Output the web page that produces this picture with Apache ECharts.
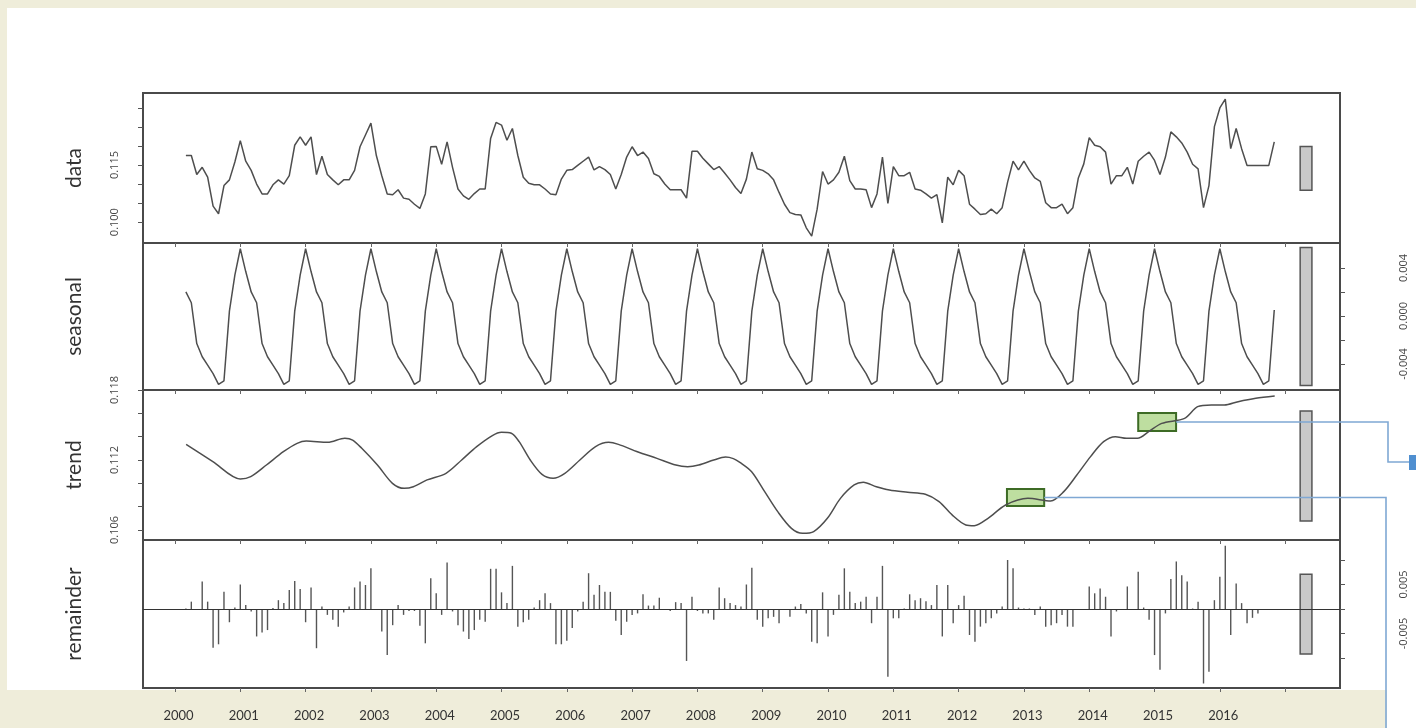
<!DOCTYPE html>
<html><head><meta charset="utf-8">
<script src="https://cdn.jsdelivr.net/npm/echarts@6/dist/echarts.min.js"></script>
<style>
html,body{margin:0;padding:0;background:#fff;}
#wrap{position:relative;width:1416px;height:728px;overflow:hidden;background:#fff;}
.strip{position:absolute;background:#efedda;}
#c{position:absolute;left:0;top:0;width:1416px;height:728px;}
</style>
</head><body>
<div id="wrap">
<div class="strip" style="left:0;top:0;width:1416px;height:8px;"></div>
<div class="strip" style="left:0;top:0;width:7px;height:728px;"></div>
<div class="strip" style="left:0;top:690px;width:1387px;height:38px;"></div>
<div id="c"></div>
</div>
<script>
// ---- DATA (monthly, March 2000 .. November 2016) ----
const startYear = 2000;
const startMonth = 3;

const dataValues = [
0.1175,0.1175,0.1125,0.1144,0.1118,0.1042,0.1022,0.1096,0.1111,0.1158,
0.1214,0.1160,0.1136,0.1100,0.1074,0.1074,0.1098,0.1111,0.1100,0.1122,
0.1202,0.1224,0.1202,0.1224,0.1125,0.1173,0.1125,0.1111,0.1098,0.1111,
0.1111,0.1136,0.1198,0.1229,0.1260,0.1175,0.1122,0.1074,0.1072,0.1085,
0.1063,0.1060,0.1047,0.1036,0.1074,0.1198,0.1199,0.1152,0.1211,0.1144,
0.1087,0.1069,0.1060,0.1075,0.1087,0.1087,0.1220,0.1262,0.1255,0.1215,
0.1246,0.1175,0.1118,0.1102,0.1098,0.1098,0.1087,0.1074,0.1072,0.1113,
0.1136,0.1138,0.1149,0.1160,0.1171,0.1137,0.1146,0.1138,0.1125,0.1087,
0.1125,0.1171,0.1198,0.1175,0.1184,0.1167,0.1127,0.1120,0.1100,0.1085,
0.1085,0.1085,0.1063,0.1186,0.1186,0.1168,0.1153,0.1138,0.1146,0.1129,
0.1111,0.1091,0.1075,0.1113,0.1184,0.1140,0.1136,0.1127,0.1111,0.1078,
0.1047,0.1025,0.1020,0.1019,0.0985,0.0963,0.1034,0.1133,0.1100,0.1111,
0.1131,0.1173,0.1109,0.1087,0.1087,0.1085,0.1038,0.1074,0.1171,0.1049,
0.1146,0.1122,0.1122,0.1131,0.1087,0.1084,0.1074,0.1063,0.1072,0.0998,
0.1118,0.1098,0.1136,0.1122,0.1047,0.1034,0.1020,0.1022,0.1034,0.1022,
0.1038,0.1105,0.1160,0.1137,0.1160,0.1136,0.1116,0.1107,0.1051,0.1038,
0.1038,0.1047,0.1022,0.1038,0.1116,0.1153,0.1222,0.1202,0.1198,0.1184,
0.1100,0.1122,0.1122,0.1144,0.1100,0.1160,0.1173,0.1184,0.1162,0.1125,
0.1171,0.1237,0.1224,0.1208,0.1184,0.1152,0.1140,0.1038,0.1096,0.1251,
0.1300,0.1323,0.1193,0.1246,0.1193,0.1149,0.1149,0.1149,0.1149,0.1149,
0.1211
];

const seasonalValues = [
0.0020,0.0011,-0.0023,-0.0034,-0.0041,-0.0048,-0.0057,-0.0054,0.0004,0.0034,0.0056,0.0037,
0.0020,0.0011,-0.0023,-0.0034,-0.0041,-0.0048,-0.0057,-0.0054,0.0004,0.0034,0.0056,0.0037,
0.0020,0.0011,-0.0023,-0.0034,-0.0041,-0.0048,-0.0057,-0.0054,0.0004,0.0034,0.0056,0.0037,
0.0020,0.0011,-0.0023,-0.0034,-0.0041,-0.0048,-0.0057,-0.0054,0.0004,0.0034,0.0056,0.0037,
0.0020,0.0011,-0.0023,-0.0034,-0.0041,-0.0048,-0.0057,-0.0054,0.0004,0.0034,0.0056,0.0037,
0.0020,0.0011,-0.0023,-0.0034,-0.0041,-0.0048,-0.0057,-0.0054,0.0004,0.0034,0.0056,0.0037,
0.0020,0.0011,-0.0023,-0.0034,-0.0041,-0.0048,-0.0057,-0.0054,0.0004,0.0034,0.0056,0.0037,
0.0020,0.0011,-0.0023,-0.0034,-0.0041,-0.0048,-0.0057,-0.0054,0.0004,0.0034,0.0056,0.0037,
0.0020,0.0011,-0.0023,-0.0034,-0.0041,-0.0048,-0.0057,-0.0054,0.0004,0.0034,0.0056,0.0037,
0.0020,0.0011,-0.0023,-0.0034,-0.0041,-0.0048,-0.0057,-0.0054,0.0004,0.0034,0.0056,0.0037,
0.0020,0.0011,-0.0023,-0.0034,-0.0041,-0.0048,-0.0057,-0.0054,0.0004,0.0034,0.0056,0.0037,
0.0020,0.0011,-0.0023,-0.0034,-0.0041,-0.0048,-0.0057,-0.0054,0.0004,0.0034,0.0056,0.0037,
0.0020,0.0011,-0.0023,-0.0034,-0.0041,-0.0048,-0.0057,-0.0054,0.0004,0.0034,0.0056,0.0037,
0.0020,0.0011,-0.0023,-0.0034,-0.0041,-0.0048,-0.0057,-0.0054,0.0004,0.0034,0.0056,0.0037,
0.0020,0.0011,-0.0023,-0.0034,-0.0041,-0.0048,-0.0057,-0.0054,0.0004,0.0034,0.0056,0.0037,
0.0020,0.0011,-0.0023,-0.0034,-0.0041,-0.0048,-0.0057,-0.0054,0.0004,0.0034,0.0056,0.0037,
0.0020,0.0011,-0.0023,-0.0034,-0.0041,-0.0048,-0.0057,-0.0054,0.0005
];

const trendTimes = [
2000.17,2000.58,2001.00,2001.16,2001.40,2001.66,2001.87,2002.01,2002.34,2002.60,
2002.72,2002.86,2003.10,2003.33,2003.51,2003.65,2003.86,2004.15,2004.39,2004.62,
2004.86,2005.00,2005.15,2005.27,2005.44,2005.62,2005.79,2005.97,2006.20,2006.44,
2006.64,2006.79,2007.08,2007.38,2007.67,2007.85,2008.02,2008.25,2008.43,2008.55,
2008.65,2008.83,2009.03,2009.23,2009.44,2009.61,2009.78,2009.99,2010.19,2010.40,
2010.54,2010.74,2010.94,2011.22,2011.49,2011.70,2011.90,2012.11,2012.24,2012.45,
2012.72,2013.06,2013.41,2013.61,2013.81,2014.02,2014.22,2014.40,2014.57,2014.74,
2014.91,2015.11,2015.46,2015.66,2015.87,2016.07,2016.28,2016.55,2016.84
];
const trendValues = [
0.11334,0.11186,0.11037,0.11057,0.11157,0.11271,0.11343,0.11363,0.11351,0.11386,
0.11371,0.11300,0.11157,0.11000,0.10957,0.10971,0.11029,0.11086,0.11200,0.11314,
0.11409,0.11437,0.11429,0.11357,0.11200,0.11077,0.11043,0.11086,0.11200,0.11314,
0.11351,0.11334,0.11271,0.11214,0.11157,0.11143,0.11157,0.11200,0.11225,0.11212,
0.11180,0.11100,0.10929,0.10757,0.10614,0.10571,0.10586,0.10700,0.10871,0.10986,
0.11009,0.10971,0.10943,0.10923,0.10906,0.10843,0.10729,0.10643,0.10637,0.10700,
0.10814,0.10871,0.10849,0.10929,0.11071,0.11229,0.11357,0.11400,0.11386,0.11386,
0.11443,0.11514,0.11557,0.11657,0.11671,0.11671,0.11700,0.11729,0.11749
];

const remainderValues = [
0.0001,0.0015,-0.0002,0.0056,0.0015,-0.0079,-0.0072,0.0035,-0.0027,0.0003,
0.0050,0.0008,-0.0005,-0.0056,-0.0048,-0.0043,0.0002,0.0018,0.0012,0.0039,
0.0057,0.0041,-0.0027,0.0044,-0.0080,0.0005,-0.0012,-0.0022,-0.0036,-0.0007,
0.0005,0.0044,0.0056,0.0049,0.0083,-0.0001,-0.0046,-0.0094,-0.0033,0.0008,
-0.0012,-0.0004,-0.0004,-0.0034,-0.0070,0.0063,0.0032,-0.0012,0.0095,-0.0005,
-0.0033,-0.0046,-0.0061,-0.0043,-0.0022,-0.0026,0.0082,0.0082,0.0034,0.0012,
0.0088,-0.0036,-0.0027,-0.0022,0.0003,0.0018,0.0032,0.0012,-0.0072,-0.0072,
-0.0065,-0.0039,-0.0005,0.0015,0.0073,0.0029,0.0049,0.0035,0.0035,-0.0024,
-0.0053,-0.0026,-0.0012,-0.0009,0.0030,0.0007,0.0007,0.0023,-0.0001,-0.0004,
0.0014,0.0012,-0.0106,0.0025,-0.0004,-0.0009,-0.0009,-0.0022,0.0044,0.0022,
0.0012,0.0008,0.0005,0.0050,0.0084,-0.0022,-0.0036,-0.0019,-0.0016,-0.0029,
-0.0002,-0.0016,0.0005,0.0010,-0.0009,-0.0067,-0.0070,0.0034,-0.0056,-0.0012,
0.0029,0.0083,0.0035,0.0012,0.0015,0.0025,-0.0029,0.0025,0.0088,-0.0138,
-0.0019,-0.0019,0.0001,0.0030,0.0018,0.0022,0.0016,0.0008,0.0049,-0.0056,
0.0049,-0.0029,0.0008,0.0027,-0.0053,-0.0067,-0.0036,-0.0029,-0.0019,-0.0009,
0.0005,0.0100,0.0083,0.0003,0.0001,0.0001,-0.0012,0.0005,-0.0036,-0.0033,
-0.0029,-0.0012,-0.0036,-0.0036,-0.0002,-0.0002,0.0046,0.0032,0.0042,0.0025,
-0.0056,-0.0005,-0.0002,0.0046,-0.0002,0.0076,0.0003,-0.0022,-0.0094,-0.0124,
-0.0009,0.0061,0.0097,0.0069,0.0056,0.0001,0.0015,-0.0152,-0.0128,0.0018,
0.0066,0.0129,-0.0053,0.0052,0.0012,-0.0029,-0.0018,-0.0009,-0.0002,0.0000,
0.0000
];

const yearLabels = [2000,2001,2002,2003,2004,2005,2006,2007,2008,2009,2010,2011,2012,2013,2014,2015,2016];
const panelNames = ['data','seasonal','trend','remainder'];
const dataTickLabels = [0.100, 0.115];
const seasonalTickLabels = [-0.004, 0.000, 0.004];
const trendTickLabels = [0.106, 0.112, 0.118];
const remainderTickLabels = [-0.005, 0.005];
// grey scale-bars (data units) for each panel
const scaleBars = [[0.1084,0.1199],[-0.0058,0.0057],[0.10677,0.11620],[-0.0092,0.0071]];
// highlighted trend windows [t0,t1,v0,v1]
const highlightBoxes = [[2012.74,2013.31,0.10806,0.10951],[2014.75,2015.33,0.11449,0.11603]];

// ---- CHART ----
const t = i => startYear + (startMonth - 1 + i) / 12;
const X_MIN = 1999.51, X_MAX = 2017.84;
const BAR_X = [2017.23, 2017.41];
const LINE = '#4e4e4e';
const LBL_FONT = "'Open Sans', sans-serif";
const NAME_FONT = "Lato, 'Open Sans', sans-serif";

const yRanges = [[0.09451,0.13393],[-0.00617,0.00608],[0.10514,0.11800],[-0.01612,0.01408]];
const gridPos = [[93,150],[243,147],[390,150],[540,148]];

const grids = gridPos.map(([top,h]) => ({left:143, right:76, top, height:h, show:true,
  borderColor:'#4a4a4a', borderWidth:2, backgroundColor:'#fff'}));

const yearTicks = [];
for (let y = 2000; y <= 2017; y++) yearTicks.push(y);

const xAxes = gridPos.map((_, i) => ({
  type:'value', gridIndex:i, min:X_MIN, max:X_MAX,
  axisLine:{show:false, onZero:false}, splitLine:{show:false}, axisLabel:{show:false},
  axisTick:{show:true, inside:false, length:4, customValues:yearTicks, lineStyle:{color:'#666', width:1}}
}));
xAxes.push({
  type:'value', gridIndex:3, position:'bottom', min:1999.456, max:2017.787,
  axisLine:{show:false, onZero:false}, axisTick:{show:false}, splitLine:{show:false},
  axisLabel:{customValues:yearLabels, formatter:v => String(Math.round(v)), margin:21,
    fontSize:13, color:'#333', fontFamily:NAME_FONT}
});

const fmt = v => (Math.abs(v) < 1e-9 ? 0 : v).toFixed(3);
const tickStyle = {show:true, length:5, lineStyle:{color:'#555', width:1}};
const lblStyle = (vals, margin) => ({show:true, customValues:vals, formatter:fmt, rotate:90,
  fontSize:11, color:'#444', fontFamily:LBL_FONT, margin});

const leftLabels = [dataTickLabels, null, trendTickLabels, null];
const leftTicks = [[0.100,0.105,0.110,0.115,0.120,0.125,0.130], null,
                   [0.106,0.108,0.110,0.112,0.114,0.116,0.118], null];
const yAxes = gridPos.map((_, i) => ({
  type:'value', gridIndex:i, position:'left', min:yRanges[i][0], max:yRanges[i][1],
  name:panelNames[i], nameLocation:'middle', nameGap:58, nameRotate:90,
  nameTextStyle:{fontSize:21, color:'#333', fontFamily:NAME_FONT},
  axisLine:{show:false, onZero:false}, splitLine:{show:false},
  axisTick: leftTicks[i] ? Object.assign({customValues:leftTicks[i]}, tickStyle) : {show:false},
  axisLabel: leftLabels[i] ? lblStyle(leftLabels[i], 23) : {show:false}
}));
// right axes for seasonal and remainder
yAxes.push({
  type:'value', gridIndex:1, position:'right', min:yRanges[1][0], max:yRanges[1][1],
  axisLine:{show:false, onZero:false}, splitLine:{show:false},
  axisTick:Object.assign({customValues:[-0.004,-0.002,0,0.002,0.004]}, tickStyle),
  axisLabel:lblStyle(seasonalTickLabels, 58)
});
yAxes.push({
  type:'value', gridIndex:3, position:'right', min:yRanges[3][0], max:yRanges[3][1],
  axisLine:{show:false, onZero:false}, splitLine:{show:false},
  axisTick:Object.assign({customValues:[-0.010,-0.005,0,0.005,0.010]}, tickStyle),
  axisLabel:lblStyle(remainderTickLabels, 58)
});

const barArea = i => ({
  silent:true,
  itemStyle:{color:'#c9c9c9', borderColor:'#555', borderWidth:1.5},
  data:[[{xAxis:BAR_X[0], yAxis:scaleBars[i][0]}, {xAxis:BAR_X[1], yAxis:scaleBars[i][1]}]]
});

const lineSeries = (i, pts, extra) => Object.assign({
  type:'line', xAxisIndex:i, yAxisIndex:i, data:pts, showSymbol:false, symbol:'none',
  lineStyle:{color:LINE, width:1.5}, silent:true, animation:false, markArea:barArea(i)
}, extra || {});

const trendArea = barArea(2);
highlightBoxes.forEach(b => {
  trendArea.data.push([
    {xAxis:b[0], yAxis:b[2], itemStyle:{color:'rgba(146,200,96,0.6)', borderColor:'#3d6b25', borderWidth:2}},
    {xAxis:b[1], yAxis:b[3]}
  ]);
});

const option = {
  backgroundColor:'transparent',
  animation:false,
  grid:grids,
  xAxis:xAxes,
  yAxis:yAxes,
  series:[
    lineSeries(0, dataValues.map((v,i)=>[t(i), v])),
    lineSeries(1, seasonalValues.map((v,i)=>[t(i), v])),
    lineSeries(2, trendTimes.map((x,i)=>[x, trendValues[i]]), {smooth:0.3, markArea:trendArea}),
    {
      type:'bar', xAxisIndex:3, yAxisIndex:3, barWidth:1.4, silent:true, animation:false,
      itemStyle:{color:'#555'},
      data:remainderValues.map((v,i)=>[t(i), v]),
      markLine:{silent:true, symbol:'none', label:{show:false},
        lineStyle:{color:'#333', width:1.2, type:'solid'}, data:[{yAxis:0}]},
      markArea:barArea(3)
    }
  ]
};

const chart = echarts.init(document.getElementById('c'), null, {renderer:'canvas'});
chart.setOption(option);

// connectors from highlighted trend windows to the right edge
const finder = {xAxisIndex:2, yAxisIndex:2};
const p1 = chart.convertToPixel(finder, [highlightBoxes[1][1], (highlightBoxes[1][2]+highlightBoxes[1][3])/2]);
const p0 = chart.convertToPixel(finder, [highlightBoxes[0][1], (highlightBoxes[0][2]+highlightBoxes[0][3])/2]);
const CX = 1388;
const conn = {stroke:'#7fa8d4', lineWidth:1.6, fill:null};
chart.setOption({
  graphic:[
    {type:'polyline', z:100, shape:{points:[[p1[0],p1[1]],[CX,p1[1]],[CX,462],[1416,462]]}, style:conn},
    {type:'polyline', z:100, shape:{points:[[p0[0],p0[1]],[CX-2,p0[1]],[CX-2,728]]}, style:conn},
    {type:'rect', z:101, shape:{x:1409, y:455, width:7, height:15}, style:{fill:'#4f8fd0'}}
  ]
});
</script>
</body></html>
